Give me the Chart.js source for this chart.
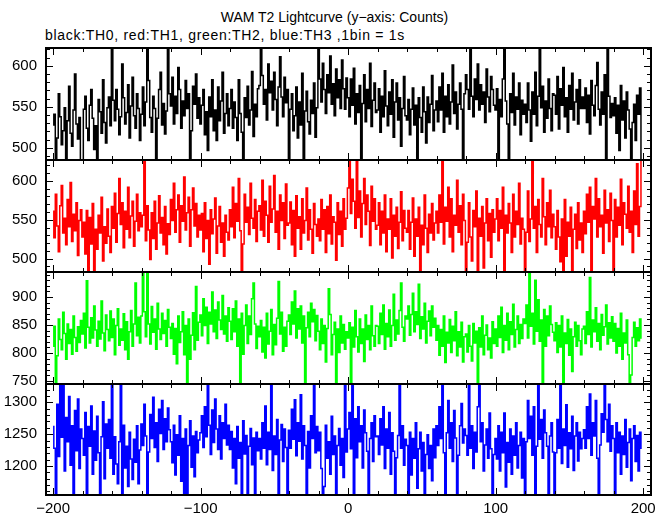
<!DOCTYPE html>
<html>
<head>
<meta charset="utf-8">
<script src="https://cdn.jsdelivr.net/npm/chart.js@4.4.1/dist/chart.umd.min.js"></script>
<style>
body { margin: 0; background: #fff; }
#wrap { position: relative; width: 669px; height: 515px; }
#wrap canvas { position: absolute; left: 0; top: 0; }
.t { position: absolute; font-family: "Liberation Sans", Arial, sans-serif; font-size: 14px; color: #000; white-space: nowrap; line-height: 16px; }
</style>
</head>
<body>
<div id="wrap">
  <div class="t" style="left:0;width:669px;text-align:center;top:9px">WAM T2 Lightcurve (y−axis: Counts)</div>
  <div class="t" style="left:45px;top:27px;letter-spacing:0.7px">black:TH0, red:TH1, green:TH2, blue:TH3 ,1bin = 1s</div>
  <canvas id="c0" width="669" height="515"></canvas>
  <canvas id="c1" width="669" height="515"></canvas>
  <canvas id="c2" width="669" height="515"></canvas>
  <canvas id="c3" width="669" height="515"></canvas>
</div>
<script>
// time bins: 1 bin = 1 s, starting at -200 s
const startTime = -200;
const binSize = 1;

// TH0 (black)
const th0 = [
  528,541,483,512,566,538,504,521,549,480,533,575,518,502,546,590,529,511,537,484,
  481,547,563,524,509,552,571,536,498,527,482,559,544,518,583,531,506,549,562,527,
  622,558,533,571,547,516,538,602,561,529,543,577,512,551,586,539,524,566,548,509,
  541,574,527,556,621,582,537,519,563,548,483,536,571,592,528,554,517,545,622,566,
  551,586,529,563,542,598,571,524,557,539,582,548,566,484,521,575,553,590,536,561,
  529,552,571,516,544,497,562,538,583,521,546,509,574,533,557,592,518,542,566,527,
  548,571,524,556,537,509,583,542,519,482,561,537,575,528,546,593,514,553,538,572,
  576,622,588,553,571,534,602,567,581,546,592,559,527,574,611,562,538,586,555,571,
  483,547,566,521,539,574,512,556,528,591,484,545,569,532,517,558,542,579,513,549,
  622,584,556,603,571,542,589,567,612,553,578,539,596,561,583,548,607,572,547,585,
  561,538,584,552,597,529,566,543,576,482,554,589,532,571,548,603,526,558,579,543,
  546,572,519,563,538,594,551,527,568,541,583,513,556,579,534,561,502,548,587,539,
  534,559,516,547,573,528,552,483,561,537,519,574,544,506,562,531,553,588,521,546,
  557,532,574,546,591,519,563,538,577,529,556,601,542,568,523,553,579,547,484,566,
  589,571,547,622,563,538,584,559,602,546,577,553,568,531,596,562,544,587,571,552,
  546,572,483,559,538,584,622,557,529,482,566,543,591,528,562,547,579,516,558,541,
  553,531,579,546,508,568,541,592,527,563,622,549,575,519,557,536,584,548,521,566,
  564,541,587,523,572,552,598,538,561,519,576,547,591,534,556,571,529,583,548,562,
  548,573,531,564,517,582,552,539,576,604,547,528,568,541,589,484,622,563,537,554,
  539,561,518,552,497,576,534,557,512,568,546,523,483,531,553,509,564,541,573,486
];

// TH1 (red)
const th1 = [
  561,527,583,542,509,568,594,533,552,518,576,541,598,522,557,536,572,504,549,563,
  528,547,506,562,482,553,519,571,481,538,512,556,533,579,497,541,520,564,529,508,
  567,539,584,521,558,603,544,572,514,561,538,592,527,555,574,516,548,583,536,559,
  541,556,628,523,568,537,499,559,526,574,512,546,581,533,553,518,567,506,545,531,
  576,549,597,534,563,582,521,568,548,605,537,559,579,516,563,591,542,571,528,556,
  537,558,509,572,526,549,493,563,532,551,578,507,542,567,521,546,503,556,534,524,
  563,541,592,527,571,548,603,536,482,519,583,547,566,531,597,552,539,576,522,561,
  568,537,601,529,574,556,521,593,547,564,607,534,561,512,582,549,572,526,596,543,
  546,573,518,562,503,581,539,554,512,577,533,549,591,524,563,538,507,571,544,529,
  551,523,576,538,563,508,567,532,582,519,554,547,498,572,531,561,516,577,538,552,
  591,628,558,602,574,539,627,553,587,528,571,603,544,582,561,517,593,548,577,538,
  543,572,518,561,533,582,509,551,538,577,501,556,529,566,513,547,586,523,562,539,
  534,562,512,547,578,503,551,529,566,481,543,518,582,539,508,557,533,571,524,546,
  561,533,582,547,628,519,566,548,592,528,577,509,556,543,601,534,568,518,583,549,
  482,521,572,528,497,562,541,587,482,552,529,567,488,546,577,523,558,502,563,534,
  551,577,523,562,539,592,482,556,533,571,546,508,583,528,561,544,597,519,552,538,
  482,534,587,522,551,628,539,567,508,576,544,528,603,554,518,572,541,588,527,557,
  541,512,562,528,496,551,481,576,503,547,529,566,478,538,557,513,572,524,546,508,
  561,532,583,547,592,481,567,551,603,528,577,541,556,507,588,546,563,522,584,549,
  482,576,528,566,543,602,518,572,557,539,593,534,561,508,587,544,622,529,567,628
];

// TH2 (green)
const th2 = [
  812,848,743,795,861,824,806,873,835,789,852,817,842,798,866,828,803,847,819,858,
  834,871,809,929,846,818,863,827,884,841,812,857,825,893,836,804,868,842,822,875,
  828,861,797,849,879,814,843,823,870,806,856,789,838,876,812,852,925,831,864,818,
  866,945,874,829,947,852,816,883,837,861,807,889,843,824,871,835,858,812,878,846,
  826,853,798,844,781,866,819,838,874,797,849,743,861,789,832,872,806,919,823,855,
  868,831,897,849,882,817,873,852,909,838,877,826,891,859,842,903,834,866,821,881,
  857,824,879,838,893,812,861,744,871,798,849,886,817,866,833,897,925,852,808,848,
  829,858,802,846,791,871,816,839,878,797,851,815,862,928,834,873,803,846,812,857,
  868,833,891,852,911,827,879,843,884,818,866,743,845,873,829,889,856,878,822,867,
  839,806,861,817,849,784,844,915,869,797,833,855,742,843,801,866,818,851,807,838,
  827,854,744,846,811,876,829,802,861,817,843,785,868,824,849,806,884,831,812,849,
  848,817,871,833,886,807,853,829,877,812,849,905,823,859,834,876,925,846,821,866,
  861,884,832,869,907,838,874,851,923,826,865,843,889,818,857,875,831,884,846,862,
  823,849,796,842,812,866,783,837,818,860,801,848,822,874,795,838,811,855,784,829,
  834,802,849,812,786,853,818,839,747,845,811,866,797,832,850,806,827,791,856,817,
  843,812,866,828,882,801,849,823,871,806,856,833,887,811,842,866,817,851,826,861,
  853,886,827,945,848,871,816,930,839,895,821,859,744,878,812,866,831,884,851,837,
  822,854,801,849,811,866,748,836,817,860,796,843,767,829,855,812,849,822,797,843,
  848,817,874,833,935,811,859,838,881,821,853,806,869,832,847,886,816,854,827,865,
  821,853,800,844,812,871,789,836,818,859,797,748,761,828,855,812,845,822,861,827
];

// TH3 (blue)
const th3 = [
  1262,1228,1153,1297,1215,1331,1245,1330,1192,1276,1238,1309,1201,1263,1152,1287,1224,1305,1196,1258,
  1243,1217,1284,1150,1262,1231,1294,1187,1255,1209,1278,1221,1153,1246,1301,1180,1266,1228,1273,1212,
  1329,1187,1246,1203,1172,1238,1330,1152,1264,1197,1231,1168,1253,1211,1179,1242,1206,1263,1172,1225,
  1266,1232,1297,1247,1153,1222,1281,1243,1308,1229,1268,1207,1289,1251,1303,1226,1274,1238,1291,1257,
  1238,1205,1264,1186,1249,1217,1279,1176,1243,1153,1258,1151,1232,1271,1198,1247,1183,1254,1221,1241,
  1252,1279,1229,1293,1246,1331,1264,1218,1288,1237,1305,1258,1226,1279,1211,1268,1243,1297,1233,1264,
  1226,1254,1197,1243,1172,1262,1212,1237,1153,1271,1219,1248,1153,1231,1259,1202,1244,1151,1253,1224,
  1243,1211,1268,1228,1294,1202,1253,1226,1331,1193,1247,1218,1273,1153,1241,1265,1207,1258,1229,1152,
  1256,1228,1289,1242,1304,1216,1268,1239,1312,1211,1263,1232,1153,1254,1197,1279,1243,1334,1221,1262,
  1224,1253,1196,1152,1168,1264,1212,1238,1187,1278,1218,1247,1156,1232,1259,1201,1243,1182,1331,1222,
  1258,1284,1227,1331,1152,1274,1213,1293,1238,1263,1197,1288,1252,1223,1153,1243,1268,1207,1279,1246,
  1247,1218,1274,1233,1293,1196,1258,1228,1284,1187,1252,1223,1153,1213,1248,1330,1228,1263,1201,1242,
  1232,1152,1253,1186,1243,1212,1268,1165,1227,1253,1192,1237,1151,1218,1249,1196,1232,1177,1258,1213,
  1263,1232,1293,1243,1331,1221,1153,1252,1303,1228,1268,1207,1287,1244,1153,1217,1263,1298,1236,1258,
  1248,1217,1331,1228,1263,1196,1253,1222,1293,1331,1238,1268,1192,1233,1258,1212,1283,1227,1152,1218,
  1243,1211,1263,1192,1253,1221,1283,1167,1237,1206,1258,1187,1247,1217,1268,1197,1232,1253,1181,1243,
  1152,1238,1303,1243,1278,1217,1293,1153,1231,1333,1242,1273,1212,1288,1252,1231,1153,1247,1268,1222,
  1152,1221,1273,1228,1332,1204,1258,1232,1296,1198,1252,1227,1278,1193,1247,1268,1208,1253,1227,1243,
  1257,1228,1293,1243,1313,1217,1268,1247,1303,1212,1153,1233,1282,1253,1331,1273,1238,1297,1223,1263,
  1243,1153,1268,1221,1253,1187,1247,1218,1273,1198,1237,1258,1177,1243,1263,1207,1248,1192,1253,1228
];

// tick labels
const xTickValues = [-200, -100, 0, 100, 200];
const yTicks0 = [500, 550, 600];
const yTicks1 = [500, 550, 600];
const yTicks2 = [750, 800, 850, 900];
const yTicks3 = [1200, 1250, 1300];

const labelFont = { family: '"Liberation Sans", Arial, sans-serif', size: 15 };

function toPoints(values) {
    return values.map((v, i) => ({ x: startTime + i * binSize, y: v }));
}

function range(from, to, step) {
    const out = [];
    for (let v = from; v <= to + 1e-9; v += step) out.push(v);
    return out;
}

// frame and inward ticks, drawn from the chart's own scales
const framePlugin = {
    id: 'frame',
    afterDatasetsDraw(chart) {
        const { ctx, chartArea: a, scales } = chart;
        const o = chart.options.plugins.frame;
        ctx.save();
        ctx.strokeStyle = '#000';
        ctx.lineWidth = 1;
        ctx.beginPath();
        range(-200, 200, 20).forEach(v => {
            const px = Math.round(scales.x.getPixelForValue(v)) + 0.5;
            const len = v % 100 === 0 ? 7 : 4;
            ctx.moveTo(px, a.top); ctx.lineTo(px, a.top + len);
            ctx.moveTo(px, a.bottom); ctx.lineTo(px, a.bottom - len);
        });
        range(o.minorFrom, o.minorTo, 10).forEach(v => {
            const py = Math.round(scales.y.getPixelForValue(v)) + 0.5;
            const len = v % 50 === 0 ? 7 : 4;
            ctx.moveTo(a.left, py); ctx.lineTo(a.left + len, py);
            ctx.moveTo(a.right, py); ctx.lineTo(a.right - len, py);
        });
        ctx.stroke();
        ctx.lineWidth = 2;
        ctx.strokeRect(a.left, a.top, a.right - a.left, a.bottom - a.top);
        ctx.restore();
    }
};

const panels = [
    { id: 'c0', values: th0, color: '#000000', min: 485.3, max: 621.6, ticks: yTicks0, minorFrom: 490, minorTo: 620, top: 48, bottom: 160 },
    { id: 'c1', values: th1, color: '#ff0000', min: 482.9, max: 626.9, ticks: yTicks1, minorFrom: 490, minorTo: 620, top: 160, bottom: 272 },
    { id: 'c2', values: th2, color: '#00ff00', min: 744.7, max: 944.8, ticks: yTicks2, minorFrom: 750, minorTo: 940, top: 272, bottom: 384 },
    { id: 'c3', values: th3, color: '#0000ff', min: 1154.5, max: 1328.7, ticks: yTicks3, minorFrom: 1160, minorTo: 1320, top: 384, bottom: 495 }
];

panels.forEach((p, idx) => {
    const last = idx === panels.length - 1;
    new Chart(document.getElementById(p.id).getContext('2d'), {
        type: 'line',
        data: {
            datasets: [{
                data: toPoints(p.values),
                borderColor: p.color,
                borderWidth: 1.5,
                pointRadius: 0,
                stepped: 'middle',
                fill: false
            }]
        },
        options: {
            responsive: false,
            animation: false,
            events: [],
            layout: { padding: { top: p.top, bottom: last ? 0 : 515 - p.bottom, left: 0, right: 18 } },
            plugins: {
                legend: { display: false },
                tooltip: { enabled: false },
                frame: { minorFrom: p.minorFrom, minorTo: p.minorTo }
            },
            scales: {
                x: {
                    type: 'linear',
                    min: -204.8,
                    max: 205.3,
                    display: last,
                    grid: { display: false, drawTicks: false },
                    border: { display: false },
                    ticks: {
                        color: '#000',
                        font: labelFont,
                        padding: 5,
                        maxRotation: 0,
                        callback: v => String(v).replace('-', '\u2212')
                    },
                    afterBuildTicks: s => { s.ticks = xTickValues.map(v => ({ value: v })); },
                    afterFit: s => { s.height = last ? 20 : 0; }
                },
                y: {
                    min: p.min,
                    max: p.max,
                    grid: { display: false, drawTicks: false },
                    border: { display: false },
                    ticks: {
                        color: '#000',
                        font: labelFont,
                        padding: 9,
                        callback: v => String(v)
                    },
                    afterBuildTicks: s => { s.ticks = p.ticks.map(v => ({ value: v })); },
                    afterFit: s => { s.width = 46; }
                }
            }
        },
        plugins: [framePlugin]
    });
});
</script>
</body>
</html>
